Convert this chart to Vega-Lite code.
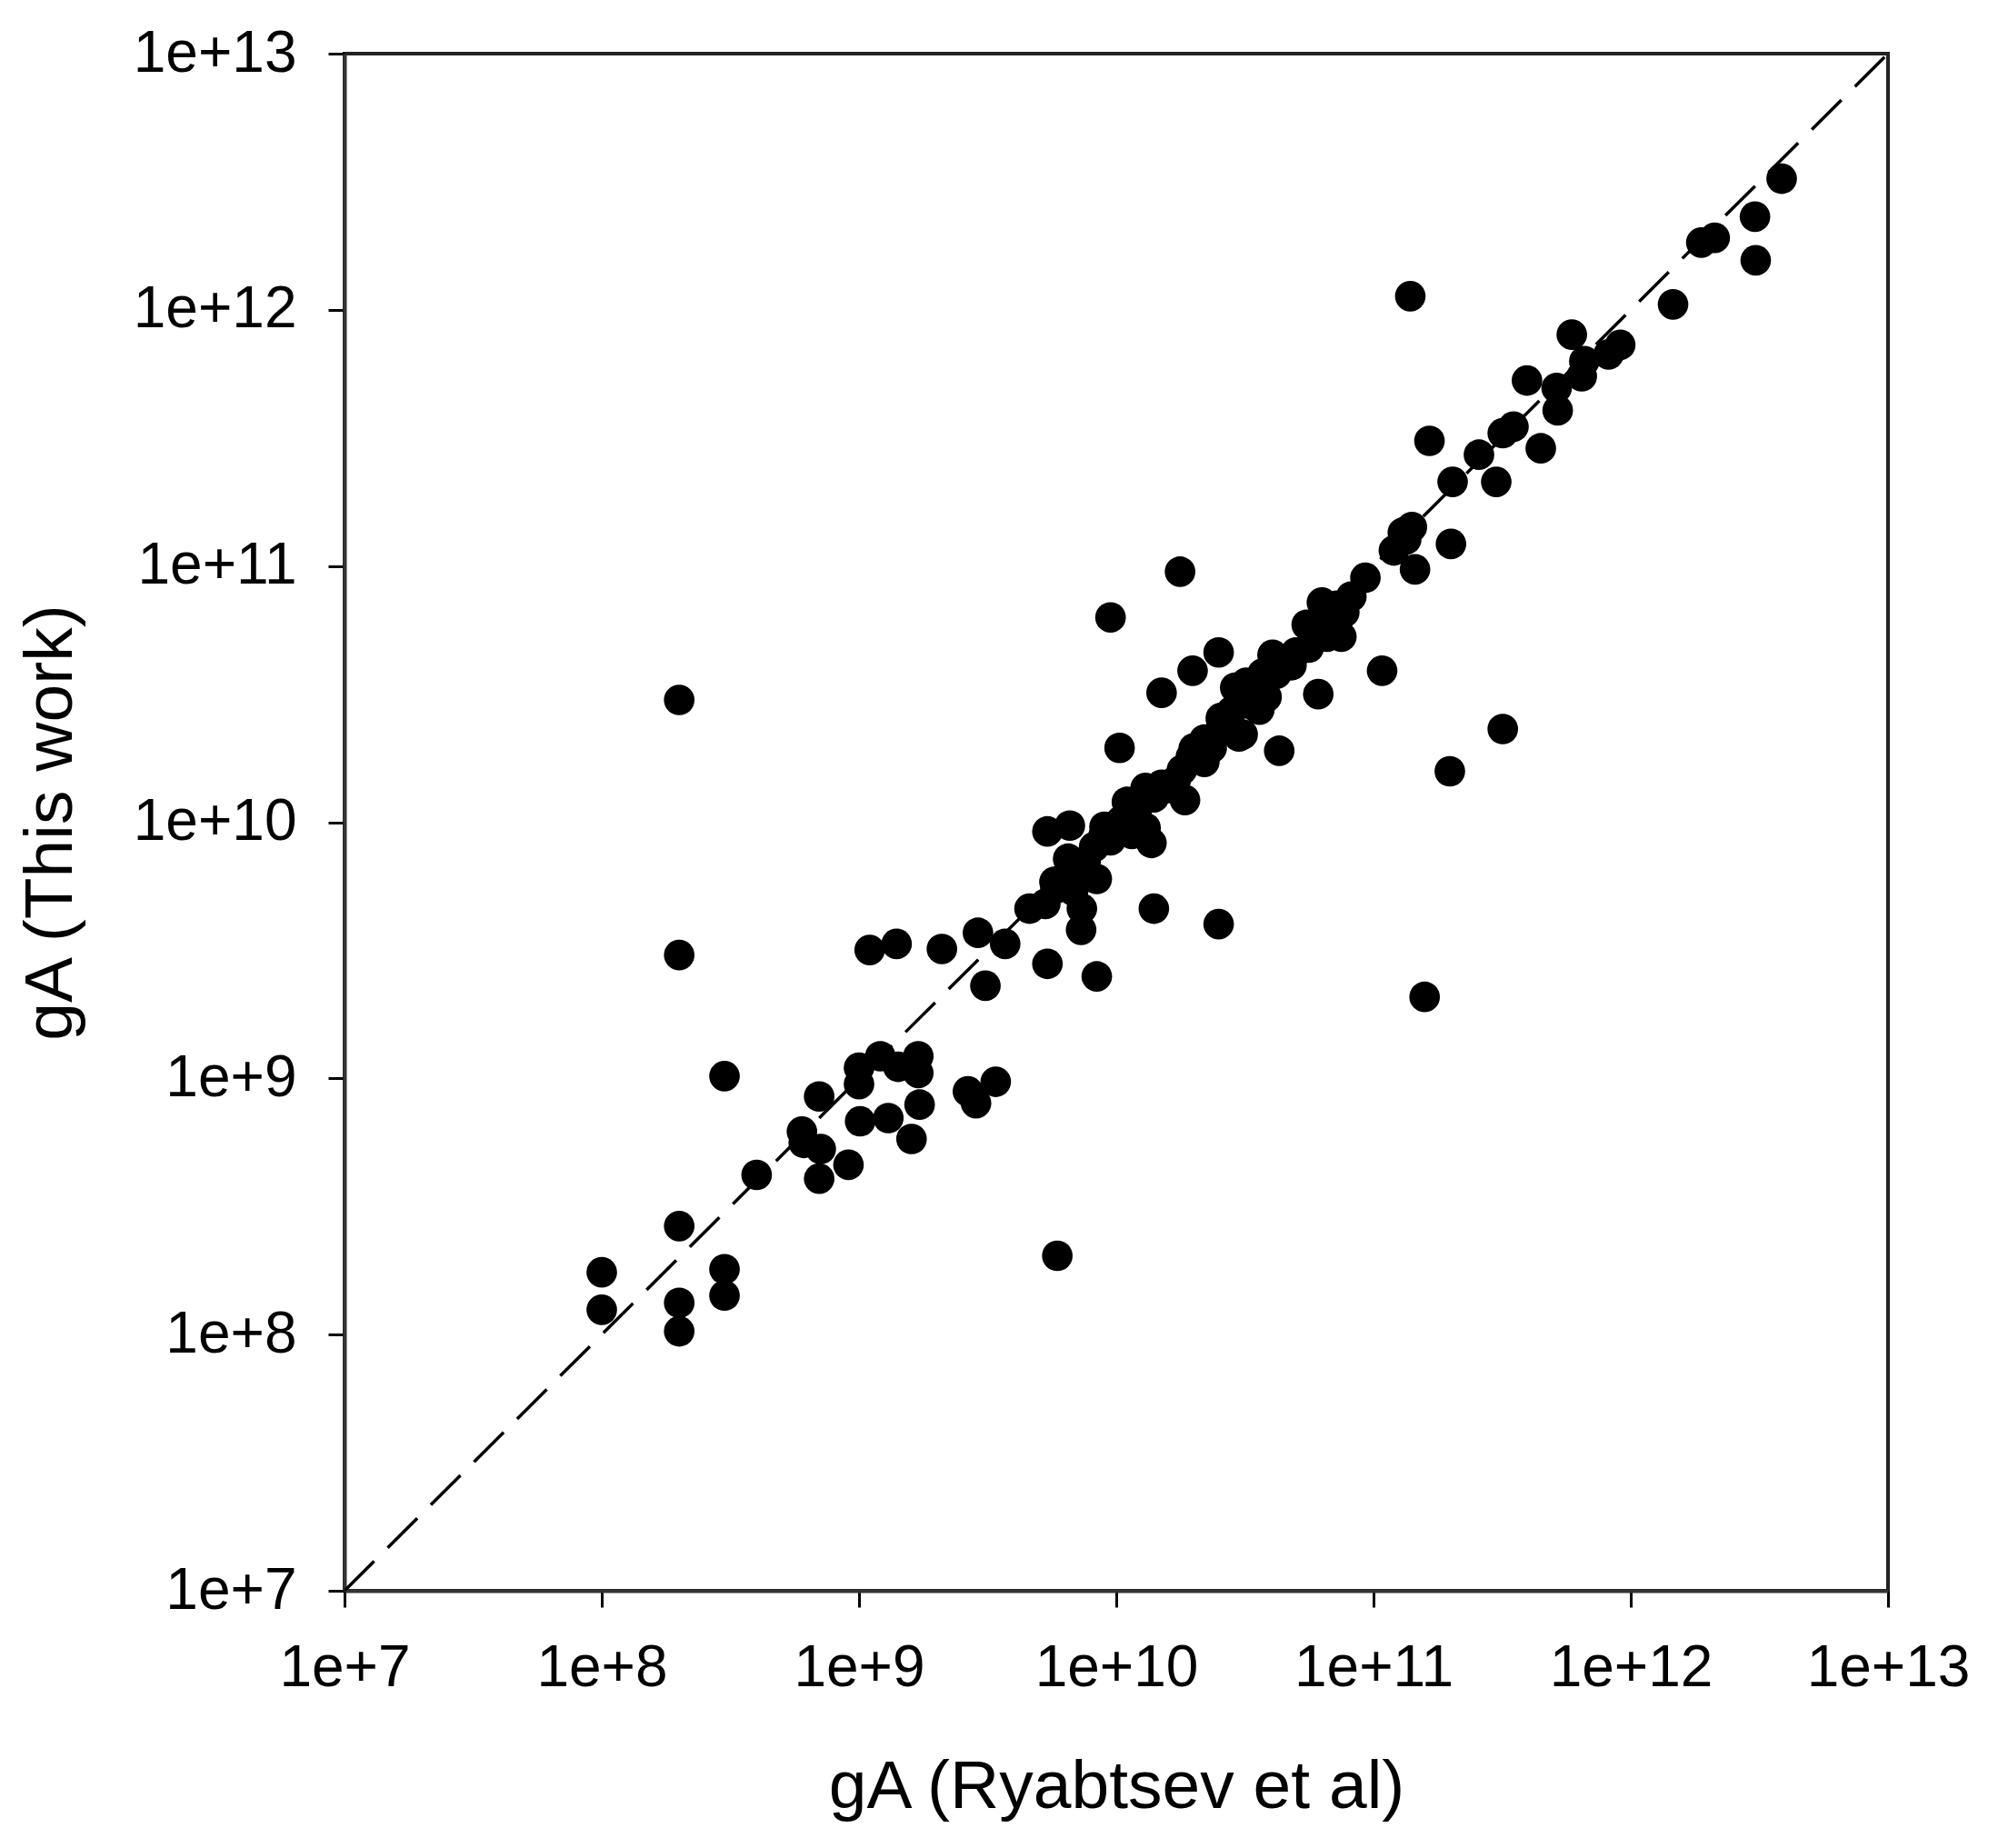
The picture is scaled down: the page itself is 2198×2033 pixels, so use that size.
{
  "$schema": "https://vega.github.io/schema/vega-lite/v6.json",
  "autosize": {"type": "none"},
  "padding": {"left": 379, "top": 59, "right": 121, "bottom": 283},
  "width": 1698,
  "height": 1691,
  "background": "white",
  "config": {
    "view": {"stroke": "#222222", "strokeWidth": 4},
    "font": "Liberation Sans",
    "axis": {
      "grid": false,
      "domainColor": "#333333",
      "domainWidth": 4,
      "tickColor": "#000000",
      "tickWidth": 3,
      "tickSize": 18,
      "labelFont": "Liberation Sans",
      "labelFontSize": 64,
      "labelColor": "#000000",
      "labelPadding": 35,
      "titleFont": "Liberation Sans",
      "titleFontSize": 75,
      "titleFontWeight": "normal",
      "titleColor": "#000000"
    }
  },
  "datasets": {
    "pts": [
      {"ref": 1.0e8, "work": 1.75e8}, {"ref": 1.0e8, "work": 1.25e8},
      {"ref": 2.0e8, "work": 1.33e8}, {"ref": 2.0e8, "work": 1.03e8},
      {"ref": 2.0e8, "work": 2.65e8}, {"ref": 3.0e8, "work": 1.8e8},
      {"ref": 3.0e8, "work": 1.42e8}, {"ref": 2.0e8, "work": 3.0e10},
      {"ref": 2.0e8, "work": 3.03e9}, {"ref": 3.0e8, "work": 1.02e9},
      {"ref": 4.0e8, "work": 4.2e8}, {"ref": 6.0e8, "work": 6.2e8},
      {"ref": 6.1e8, "work": 5.6e8}, {"ref": 7.0e8, "work": 4.06e8},
      {"ref": 7.1e8, "work": 5.3e8}, {"ref": 7.0e8, "work": 8.5e8},
      {"ref": 9.1e8, "work": 4.6e8}, {"ref": 1.0e9, "work": 1.1e9},
      {"ref": 1.21e9, "work": 1.22e9}, {"ref": 1.42e9, "work": 1.11e9},
      {"ref": 1.7e9, "work": 1.22e9}, {"ref": 1.7e9, "work": 1.05e9},
      {"ref": 1.0e9, "work": 9.5e8}, {"ref": 1.01e9, "work": 6.8e8},
      {"ref": 1.3e9, "work": 7.0e8}, {"ref": 1.72e9, "work": 7.9e8},
      {"ref": 1.6e9, "work": 5.8e8}, {"ref": 1.1e9, "work": 3.17e9},
      {"ref": 1.4e9, "work": 3.35e9}, {"ref": 2.1e9, "work": 3.2e9},
      {"ref": 2.9e9, "work": 3.7e9}, {"ref": 3.7e9, "work": 3.35e9},
      {"ref": 3.1e9, "work": 2.3e9}, {"ref": 3.4e9, "work": 9.7e8},
      {"ref": 2.85e9, "work": 8.0e8}, {"ref": 2.65e9, "work": 8.9e8},
      {"ref": 5.9e9, "work": 2.03e8}, {"ref": 4.6e9, "work": 4.6e9},
      {"ref": 5.4e9, "work": 2.8e9}, {"ref": 7.3e9, "work": 3.8e9},
      {"ref": 8.4e9, "work": 2.5e9}, {"ref": 5.4e9, "work": 9.2e9},
      {"ref": 6.6e9, "work": 9.7e9}, {"ref": 5.75e9, "work": 5.85e9},
      {"ref": 7.35e9, "work": 4.6e9}, {"ref": 8.4e9, "work": 6.0e9},
      {"ref": 8.9e9, "work": 8.8e9}, {"ref": 1.04e10, "work": 1.01e10},
      {"ref": 1.3e10, "work": 9.5e9}, {"ref": 1.37e10, "work": 8.3e9},
      {"ref": 1.3e10, "work": 1.36e10}, {"ref": 1.85e10, "work": 1.22e10},
      {"ref": 1.95e10, "work": 1.8e10}, {"ref": 2.35e10, "work": 1.95e10},
      {"ref": 2.55e10, "work": 2.55e10}, {"ref": 3.0e10, "work": 2.16e10},
      {"ref": 3.6e10, "work": 2.75e10}, {"ref": 1.4e10, "work": 4.6e9},
      {"ref": 2.5e10, "work": 4.0e9}, {"ref": 1.03e10, "work": 1.95e10},
      {"ref": 4.3e10, "work": 1.9e10}, {"ref": 1.5e10, "work": 3.2e10},
      {"ref": 9.5e9, "work": 6.3e10}, {"ref": 1.77e10, "work": 9.5e10},
      {"ref": 1.98e10, "work": 3.9e10}, {"ref": 2.5e10, "work": 4.6e10},
      {"ref": 6.1e10, "work": 3.16e10}, {"ref": 1.08e11, "work": 3.9e10},
      {"ref": 1.98e11, "work": 1.58e10}, {"ref": 3.18e11, "work": 2.31e10},
      {"ref": 1.58e11, "work": 2.08e9}, {"ref": 1.39e11, "work": 1.13e12},
      {"ref": 5.8e9, "work": 5.5e9}, {"ref": 5.3e9, "work": 4.8e9},
      {"ref": 6.8e9, "work": 5.4e9}, {"ref": 7.0e9, "work": 6.7e9},
      {"ref": 8.2e9, "work": 8.0e9}, {"ref": 9.5e9, "work": 8.5e9},
      {"ref": 1.1e10, "work": 1.2e10}, {"ref": 1.15e10, "work": 9.0e9},
      {"ref": 1.2e10, "work": 1.1e10}, {"ref": 1.6e10, "work": 1.36e10},
      {"ref": 1.8e10, "work": 1.6e10}, {"ref": 2.0e10, "work": 1.94e10},
      {"ref": 2.2e10, "work": 1.72e10}, {"ref": 2.56e10, "work": 2.48e10},
      {"ref": 3.1e10, "work": 2.2e10}, {"ref": 2.9e10, "work": 3.35e10},
      {"ref": 3.2e10, "work": 3.5e10}, {"ref": 3.45e10, "work": 2.84e10},
      {"ref": 3.84e10, "work": 3.08e10}, {"ref": 3.7e10, "work": 3.8e10},
      {"ref": 4.05e10, "work": 4.5e10}, {"ref": 4.5e10, "work": 4.3e10},
      {"ref": 5.6e10, "work": 4.8e10}, {"ref": 5.5e10, "work": 5.9e10},
      {"ref": 6.6e10, "work": 5.3e10}, {"ref": 7.0e10, "work": 6.4e10},
      {"ref": 7.7e10, "work": 6.6e10}, {"ref": 8.2e10, "work": 7.6e10},
      {"ref": 9.3e10, "work": 9.0e10}, {"ref": 6.3e10, "work": 7.2e10},
      {"ref": 7.5e10, "work": 5.3e10}, {"ref": 1.41e11, "work": 1.42e11},
      {"ref": 1.45e11, "work": 9.7e10}, {"ref": 2.0e11, "work": 1.22e11},
      {"ref": 1.34e11, "work": 1.27e11}, {"ref": 1.65e11, "work": 3.08e11},
      {"ref": 2.03e11, "work": 2.13e11}, {"ref": 3.0e11, "work": 2.13e11},
      {"ref": 2.57e11, "work": 2.72e11}, {"ref": 3.18e11, "work": 3.3e11},
      {"ref": 3.5e11, "work": 3.5e11}, {"ref": 4.47e11, "work": 2.88e11},
      {"ref": 3.95e11, "work": 5.3e11}, {"ref": 5.2e11, "work": 4.05e11},
      {"ref": 5.15e11, "work": 4.95e11}, {"ref": 6.45e11, "work": 5.5e11},
      {"ref": 6.6e11, "work": 6.3e11}, {"ref": 5.9e11, "work": 8.0e11},
      {"ref": 8.2e11, "work": 6.7e11}, {"ref": 9.1e11, "work": 7.3e11},
      {"ref": 1.46e12, "work": 1.05e12}, {"ref": 1.88e12, "work": 1.83e12},
      {"ref": 2.12e12, "work": 1.91e12}, {"ref": 3.04e12, "work": 2.31e12},
      {"ref": 3.06e12, "work": 1.56e12}, {"ref": 3.86e12, "work": 3.25e12},
      {"ref": 1.1e10, "work": 1.05e10}, {"ref": 1.25e10, "work": 1.2e10},
      {"ref": 1.4e10, "work": 1.25e10}, {"ref": 1.5e10, "work": 1.4e10},
      {"ref": 1.7e10, "work": 1.45e10}, {"ref": 2.2e10, "work": 2.1e10},
      {"ref": 2.7e10, "work": 2.3e10}, {"ref": 2.8e10, "work": 2.7e10},
      {"ref": 3.3e10, "work": 3.0e10}, {"ref": 4.2e10, "work": 3.8e10},
      {"ref": 4.8e10, "work": 4.1e10}, {"ref": 5.0e10, "work": 4.6e10},
      {"ref": 6.0e10, "work": 5.6e10}, {"ref": 6.5e10, "work": 6.0e10},
      {"ref": 7.2e10, "work": 7.0e10}, {"ref": 6.2e9, "work": 6.0e9},
      {"ref": 6.5e9, "work": 7.2e9}, {"ref": 7.6e9, "work": 7.0e9},
      {"ref": 9.0e9, "work": 9.6e9}, {"ref": 1.0e10, "work": 9.2e9},
      {"ref": 1.2e11, "work": 1.15e11}, {"ref": 1.3e11, "work": 1.35e11}
    ],
    "diag": [
      {"ref": 1.0e7, "work": 1.0e7},
      {"ref": 1.0e13, "work": 1.0e13}
    ]
  },
  "layer": [
    {
      "data": {"name": "diag"},
      "mark": {"type": "line", "color": "#000000", "strokeWidth": 3.5, "strokeDash": [46, 21], "clip": true},
      "encoding": {
        "x": {"field": "ref", "type": "quantitative"},
        "y": {"field": "work", "type": "quantitative"}
      }
    },
    {
      "data": {"name": "pts"},
      "mark": {"type": "circle", "color": "#000000", "opacity": 1, "size": 1134},
      "encoding": {
        "x": {
          "field": "ref", "type": "quantitative",
          "scale": {"type": "log", "domain": [1e7, 1e13], "nice": false},
          "axis": {
            "values": [1e7, 1e8, 1e9, 1e10, 1e11, 1e12, 1e13],
            "labelExpr": "'1e+' + round(log(datum.value) / LN10)",
            "title": "gA (Ryabtsev et al)",
            "titlePadding": 62,
            "labelFlush": false,
            "labelOverlap": false
          }
        },
        "y": {
          "field": "work", "type": "quantitative",
          "scale": {"type": "log", "domain": [1e7, 1e13], "nice": false},
          "axis": {
            "values": [1e7, 1e8, 1e9, 1e10, 1e11, 1e12, 1e13],
            "labelExpr": "'1e+' + round(log(datum.value) / LN10)",
            "title": "gA (This work)",
            "titlePadding": 85,
            "labelFlush": false,
            "labelOverlap": false
          }
        }
      }
    }
  ]
}
